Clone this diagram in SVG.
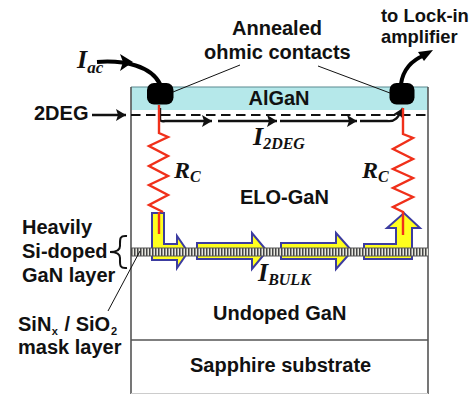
<svg xmlns="http://www.w3.org/2000/svg" width="471" height="394" viewBox="0 0 471 394">
<defs>
<pattern id="stripes" x="131" y="248" width="3" height="9" patternUnits="userSpaceOnUse"><rect width="3" height="9" fill="#e8e8e0"/><rect width="1.5" height="9" fill="#444"/></pattern>
<marker id="ah" markerUnits="userSpaceOnUse" markerWidth="12" markerHeight="14" refX="10" refY="6" orient="auto"><path d="M0 0L10 6L0 12L2 6Z" fill="#111"/></marker>
</defs>
<style>
text{font-family:"Liberation Sans",Arial,sans-serif;font-weight:bold;fill:#111;font-size:20px}
.i{font-family:"Liberation Serif","Times New Roman",serif;font-style:italic;font-size:24px}
.ii{font-size:26px}
.lead{fill:none;stroke:#111;stroke-width:1}
.cur{fill:none;stroke:#111;stroke-width:2.4}
.thick{fill:none;stroke:#000;stroke-width:4}
.res{fill:none;stroke:#f0301a;stroke-width:2.4}
.big{fill:#ffff1e;stroke:#3c3ca0;stroke-width:2}
.frame{stroke:#555;stroke-width:1.6;fill:none}
.sub{font-size:16px}
.s{font-size:11px}
</style>
<g id="algan"><rect x="131" y="87" width="297" height="23" fill="#b5e8ea"/><path d="M131 87H428" stroke="#5a8a90" stroke-width="1.2"/><text x="279" y="105" text-anchor="middle">AlGaN</text></g>
<g id="device"><path class="frame" d="M131 87V394M428 87V394M131 340H428"/><path d="M131 393.5H428" stroke="#ccc" stroke-width="1"/><path d="M131 115H429" stroke="#111" stroke-width="2.2" stroke-dasharray="9.5 5.5" fill="none"/></g>
<g id="contacts"><rect id="contact-left" x="147" y="83" width="26.5" height="21.5" rx="7" fill="#000"/><rect id="contact-right" x="389.5" y="83" width="25" height="21.5" rx="7" fill="#000"/></g>
<g id="bulk-arrows">
<path class="big" d="M152 213H164V244H177V236L188 252L177 268V260H152Z"/>
<path class="big" d="M197 243H252V233L267 251L252 269V259H197Z"/>
<path class="big" d="M281 243H336V233L352 251L336 269V259H281Z"/>
<path class="big" d="M364 244H396V228H387L404 213L420 228H412V259H364Z"/>
</g>
<g id="doped-layer"><rect x="131" y="248" width="297" height="8" fill="url(#stripes)"/><path d="M131 248H428M131 256H428" stroke="#555" stroke-width="1"/></g>
<g id="connectors">
<path class="thick" d="M97 62C125 60 151 66 160 84"/>
<path d="M120 54L133 62L120 71L123 62Z" fill="#000"/>
<path class="thick" d="M401 84C403 70 412 60 425 55"/>
<path d="M418 52L433 50L424 61Z" fill="#000"/>
<path class="cur" d="M92 115H126" marker-end="url(#ah)"/>
<path class="cur" d="M160 108V119Q160 122 165 121H212" marker-end="url(#ah)"/>
<path class="cur" d="M218 121H277" marker-end="url(#ah)"/>
<path class="cur" d="M280 121H357" marker-end="url(#ah)"/>
<path class="cur" d="M360 121H387C395 122 398 118 403 108" marker-end="url(#ah)"/>
<path class="lead" d="M173 92L240 65"/>
<path class="lead" d="M318 66L390 93"/>
<path class="lead" d="M108 311L140 251"/>
<path d="M127 236C119 235 120 240 120 246Q120 252 110 252Q120 252 120 258C120 264 119 269 127 268" fill="none" stroke="#111" stroke-width="2"/>
<path class="res" d="M159 105V133L168 137L149 146L168 156L149 166L168 176L149 185L168 195L149 205L163 212"/>
<path class="res" d="M159 212V234"/>
<path class="res" d="M403 108V134L413 138L393 149L413 159L393 169L413 178L393 188L413 197L393 207L403 212V235"/>
</g>
<g id="labels">
<text x="232" y="35">Annealed</text>
<text x="204" y="59">ohmic contacts</text>
<text x="381" y="22" style="font-size:18.4px">to Lock-in</text>
<text x="381" y="43" style="font-size:18.4px">amplifier</text>
<text x="34" y="120">2DEG</text>
<text x="22" y="234">Heavily</text>
<text x="22" y="258">Si-doped</text>
<text x="22" y="282">GaN layer</text>
<text x="18" y="331">SiN<tspan class="s" dy="4" dx="0.5">x</tspan><tspan dy="-4" dx="1"> / SiO</tspan><tspan class="s" dy="4" dx="1">2</tspan></text>
<text x="18" y="354">mask layer</text>
<text x="240" y="204">ELO-GaN</text>
<text x="213" y="320">Undoped GaN</text>
<text x="190" y="372">Sapphire substrate</text>
<text class="i ii" x="77" y="68">I<tspan dy="5" style="font-size:17px">ac</tspan></text>
<text class="i ii" x="253" y="145">I<tspan class="sub" dy="4">2DEG</tspan></text>
<text class="i" x="174" y="178">R<tspan class="sub" dy="4">C</tspan></text>
<text class="i" x="362" y="178">R<tspan class="sub" dy="4">C</tspan></text>
<text class="i ii" x="258" y="281">I<tspan class="sub" dy="4">BULK</tspan></text>
</g>
</svg>
